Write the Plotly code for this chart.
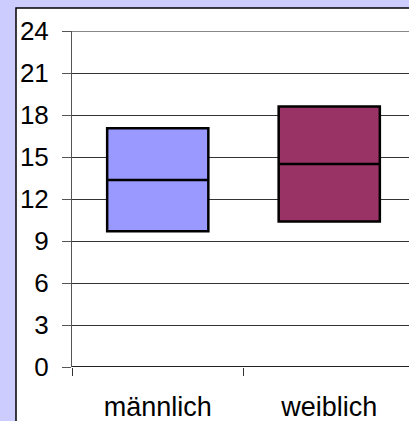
import plotly.graph_objects as go

categories = ["männlich", "weiblich"]
q1_vals = [9.7, 10.4]
median_vals = [13.35, 14.5]
q3_vals = [17.05, 18.6]
colors = ["#9999ff", "#993366"]
y_ticks = [0, 3, 6, 9, 12, 15, 18, 21, 24]

W, H = 409, 421
ML, MR, MT, MB = 72, 0, 31, 54
plot_w = W - ML - MR
plot_h = H - MT - MB
cat_px = 171.5

fig = go.Figure()
for i, cat in enumerate(categories):
    fig.add_trace(go.Box(
        x=[i], q1=[q1_vals[i]], median=[median_vals[i]], q3=[q3_vals[i]],
        lowerfence=[q1_vals[i]], upperfence=[q3_vals[i]],
        name=cat, width=0.59, fillcolor=colors[i],
        line=dict(color="black", width=2.5), whiskerwidth=0,
        boxpoints=False, showlegend=False,
    ))

fig.add_shape(type="rect", xref="paper", yref="paper",
              x0=(16 - ML) / plot_w, x1=1.3,
              y0=-0.5, y1=(H - MB - 8) / plot_h,
              fillcolor="white", line=dict(color="black", width=1.5), layer="below")

fig.update_layout(
    width=W, height=H,
    margin=dict(l=ML, r=MR, t=MT, b=MB, pad=0),
    paper_bgcolor="#ccccff", plot_bgcolor="white",
    boxmode="overlay",
    font=dict(family="Liberation Sans, Arial, sans-serif", size=26, color="black"),
    xaxis=dict(
        range=[-0.5, -0.5 + plot_w / cat_px],
        tickvals=[0, 1], ticktext=categories, ticks="",
        showgrid=False, zeroline=False, showline=False,
        ticklabelstandoff=21,
        minor=dict(tickvals=[-0.5, 0.5, 1.5], ticks="outside", ticklen=8,
                   tickcolor="#333", tickwidth=1, showgrid=False),
        tickfont=dict(size=27),
    ),
    yaxis=dict(
        range=[0, 24], tickvals=y_ticks, ticks="outside", ticklen=9,
        tickcolor="#555", showgrid=True, gridcolor="#333", gridwidth=1,
        zeroline=False, showline=True, linecolor="#555", linewidth=1,
        ticklabelstandoff=8, tickfont=dict(size=26),
    ),
)
fig.add_shape(type="line", xref="paper", yref="y", x0=0, x1=1, y0=0, y1=0,
              line=dict(color="#222", width=2))
fig.add_shape(type="line", xref="paper", yref="y", x0=0, x1=1, y0=24, y1=24,
              line=dict(color="#888", width=2))

fig.write_html("out.html", config={"displayModeBar": False},
               post_script="document.body.style.margin='0px';")
